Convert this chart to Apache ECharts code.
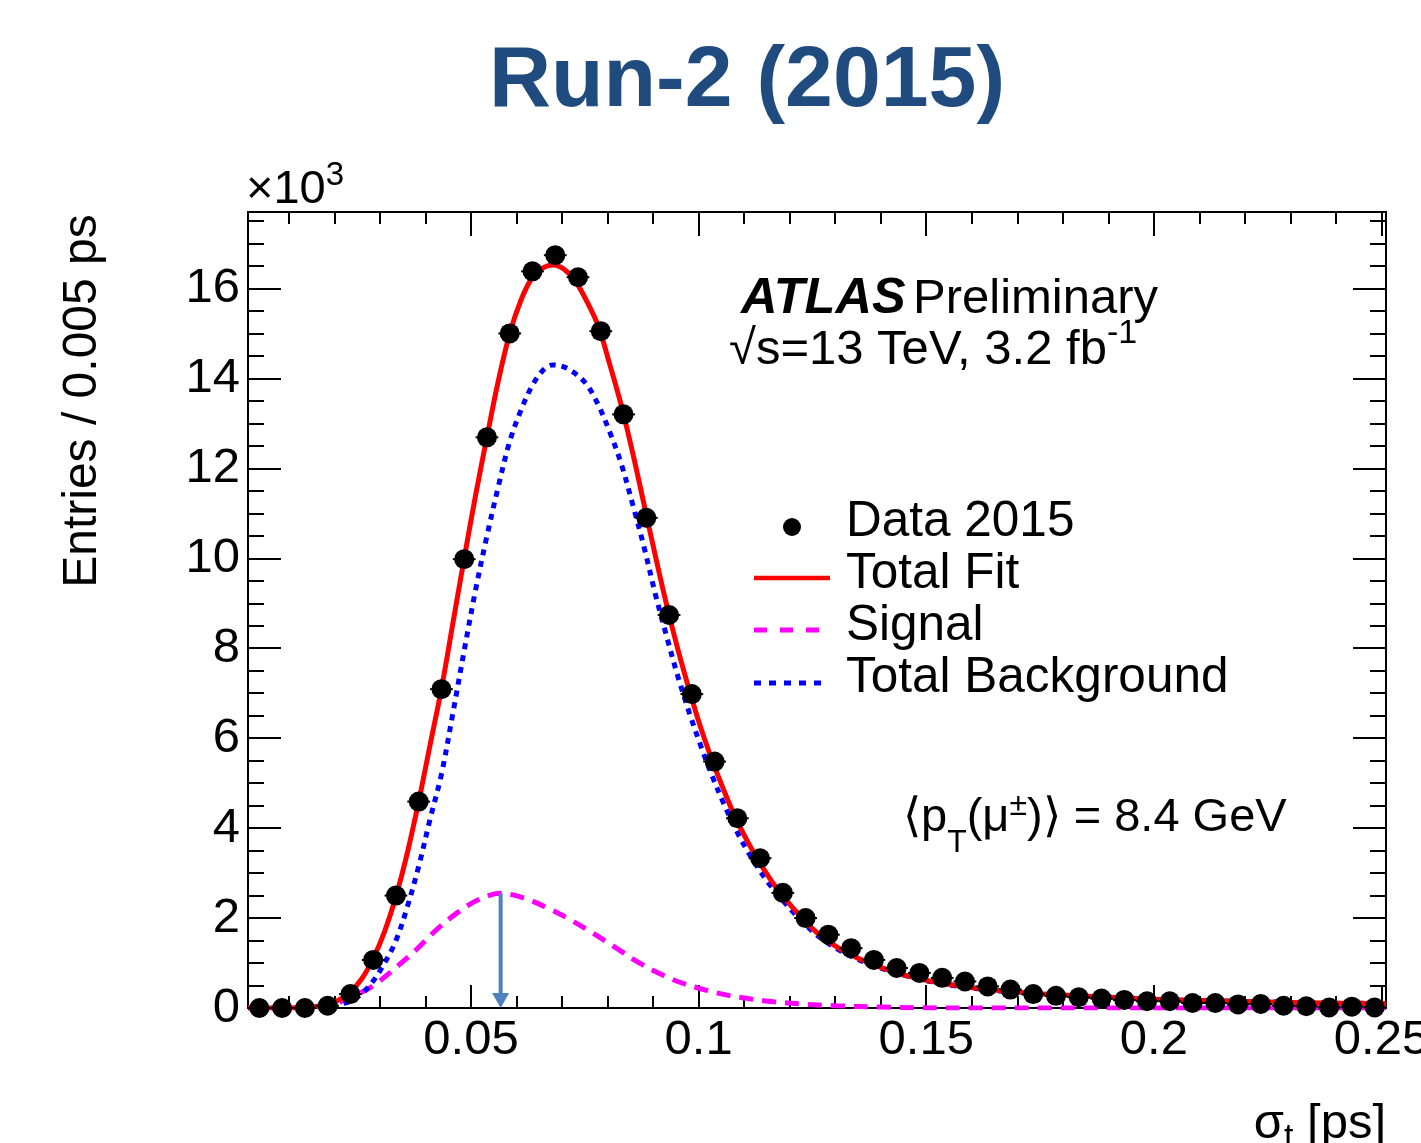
<!DOCTYPE html>
<html><head><meta charset="utf-8">
<script src="https://cdn.jsdelivr.net/npm/echarts@6/dist/echarts.min.js"></script>
<style>html,body{margin:0;padding:0;background:#fff;overflow:hidden}#c{width:1421px;height:1143px}</style>
</head><body><div id="c"></div>
<script>
// ---------------- data (entries in units of 10^3) ----------------
const binCenters = [0.0035,0.0085,0.0135,0.0185,0.0235,0.0285,0.0335,0.0385,0.0435,0.0485,
  0.0535,0.0585,0.0635,0.0685,0.0735,0.0785,0.0835,0.0885,0.0935,0.0985,
  0.1035,0.1085,0.1135,0.1185,0.1235,0.1285,0.1335,0.1385,0.1435,0.1485,
  0.1535,0.1585,0.1635,0.1685,0.1735,0.1785,0.1835,0.1885,0.1935,0.1985,
  0.2035,0.2085,0.2135,0.2185,0.2235,0.2285,0.2335,0.2385,0.2435,0.2485];
const dataCounts = [0.0,0.0,0.0,0.05,0.31,1.07,2.50,4.59,7.09,9.98,
  12.69,15.0,16.38,16.74,16.25,15.05,13.2,10.9,8.74,6.98,
  5.48,4.22,3.33,2.56,2.0,1.63,1.33,1.07,0.89,0.78,
  0.67,0.59,0.48,0.41,0.31,0.27,0.24,0.21,0.18,0.15,
  0.15,0.11,0.11,0.08,0.09,0.05,0.04,0.01,0.03,0.01];
const binWidth = 0.005;

const fitX = [0.001,0.0085,0.0135,0.0185,0.021,0.0235,0.026,0.0285,0.031,0.0335,0.036,0.0385,0.041,0.0435,0.046,0.0485,0.051,0.0535,0.056,0.0585,0.061,0.0635,0.066,0.068,0.0705,0.073,0.0755,0.078,0.0805,0.083,0.0855,0.088,0.0905,0.093,0.0955,0.098,0.1005,0.103,0.1055,0.108,0.1105,0.113,0.1155,0.118,0.1205,0.123,0.1255,0.128,0.1305,0.133,0.138,0.143,0.148,0.153,0.158,0.163,0.168,0.173,0.178,0.188,0.198,0.208,0.218,0.228,0.238,0.251];
const fitY = [0,0,0.01,0.08,0.18,0.36,0.65,1.1,1.7,2.48,3.45,4.59,5.85,7.1,8.55,10.0,11.4,12.7,13.95,15.0,15.75,16.25,16.47,16.52,16.42,16.15,15.7,15.15,14.3,13.4,12.35,11.2,10.05,8.95,7.95,7.05,6.22,5.5,4.85,4.25,3.75,3.3,2.9,2.55,2.25,1.98,1.72,1.52,1.35,1.2,0.98,0.8,0.66,0.56,0.48,0.42,0.37,0.33,0.3,0.25,0.2,0.17,0.15,0.13,0.11,0.1];

const bkgX = [0.001,0.0135,0.0185,0.021,0.0235,0.026,0.0285,0.031,0.0335,0.036,0.0385,0.041,0.0435,0.046,0.0485,0.051,0.0535,0.056,0.0585,0.061,0.0635,0.066,0.068,0.0705,0.073,0.0755,0.078,0.0805,0.083,0.0855,0.088,0.0905,0.093,0.0955,0.098,0.1005,0.103,0.1055,0.108,0.1105,0.113,0.1155,0.118,0.1205,0.123,0.1255,0.128,0.1305,0.133,0.138,0.143,0.148,0.153,0.158,0.163,0.168,0.173,0.178,0.188,0.198,0.208,0.218,0.228,0.238,0.251];
const bkgY = [0,0,0.03,0.08,0.15,0.32,0.6,1.0,1.5,2.25,3.15,4.2,5.2,6.55,7.95,9.3,10.5,11.6,12.6,13.3,13.85,14.2,14.3,14.25,14.1,13.85,13.4,12.8,12.1,11.2,10.25,9.2,8.25,7.35,6.55,5.82,5.15,4.55,4.0,3.53,3.12,2.76,2.45,2.16,1.9,1.66,1.47,1.31,1.17,0.96,0.79,0.65,0.55,0.47,0.41,0.36,0.32,0.29,0.25,0.2,0.17,0.15,0.13,0.11,0.1];

const sigX = [0.001,0.012,0.016,0.0205,0.025,0.029,0.0335,0.038,0.0425,0.047,0.0515,0.0565,0.0615,0.0665,0.0715,0.0765,0.0815,0.0865,0.0915,0.0965,0.1015,0.1065,0.1115,0.1165,0.1225,0.13,0.14,0.155,0.251];
const sigY = [0,0,0.03,0.11,0.3,0.53,0.9,1.3,1.75,2.12,2.4,2.55,2.45,2.24,1.98,1.68,1.36,1.03,0.76,0.55,0.4,0.28,0.2,0.14,0.09,0.05,0.02,0,0];

const arrowX = 0.0565, arrowTop = 2.55;   // mean of the signal marker

const xMin = 0.001, xMax = 0.251, yMin = 0, yMax = 17.7;
const xMajorTicks = [0.05,0.1,0.15,0.2,0.25];
const xTickLabels = ['0.05','0.1','0.15','0.2','0.25'];
const xMinorTicks = [0.01,0.02,0.03,0.04,0.06,0.07,0.08,0.09,0.11,0.12,0.13,0.14,0.16,0.17,0.18,0.19,0.21,0.22,0.23,0.24];
const yMajorTicks = [0,2,4,6,8,10,12,14,16];
const yTickLabels = ['0','2','4','6','8','10','12','14','16'];
const yMinorTicks = [0.5,1,1.5,2.5,3,3.5,4.5,5,5.5,6.5,7,7.5,8.5,9,9.5,10.5,11,11.5,12.5,13,13.5,14.5,15,15.5,16.5,17,17.5];

// ---------------- styling ----------------
const FONT = '"Liberation Sans", Arial, Helvetica, sans-serif';
const RED = '#ff0000', MAG = '#ff00ff', BLUE = '#0000ff', ARROW = '#4f81bd';
const FS = 49;

const zip = (a, b) => a.map((v, i) => [v, b[i]]);
const points = zip(binCenters, dataCounts);

function xAxis(pos, ticks, len, labels) {
  return {
    type: 'value', min: xMin, max: xMax, position: pos,
    axisLine: { show: true, onZero: false, lineStyle: { color: '#000', width: 2 } },
    axisTick: { show: true, inside: true, length: len, customValues: ticks, lineStyle: { color: '#000', width: 2 } },
    axisLabel: labels ? {
      show: true, customValues: ticks, margin: 8, color: '#000', fontSize: FS, fontFamily: FONT,
      formatter: v => xTickLabels[xMajorTicks.findIndex(t => Math.abs(t - v) < 1e-9)]
    } : { show: false },
    splitLine: { show: false }
  };
}
function yAxis(pos, ticks, len, labels) {
  return {
    type: 'value', min: yMin, max: yMax, position: pos,
    axisLine: { show: true, onZero: false, lineStyle: { color: '#000', width: 2 } },
    axisTick: { show: true, inside: true, length: len, customValues: ticks, lineStyle: { color: '#000', width: 2 } },
    axisLabel: labels ? {
      show: true, customValues: ticks, margin: 8, color: '#000', fontSize: FS, fontFamily: FONT,
      formatter: v => yTickLabels[yMajorTicks.findIndex(t => Math.abs(t - v) < 1e-9)]
    } : { show: false },
    splitLine: { show: false }
  };
}

const mctx = document.createElement('canvas').getContext('2d');
function tw(str, size, weight, style) {
  mctx.font = `${style || 'normal'} ${weight || 'normal'} ${size}px ${FONT}`;
  return mctx.measureText(str).width;
}
function txt(str, x, y, size, opt) {
  opt = opt || {};
  return {
    type: 'text', x: x, y: y, rotation: opt.rotation || 0, z: 100,
    style: {
      text: str, fill: opt.fill || '#000', fontSize: size, fontFamily: FONT,
      fontWeight: opt.weight || 'normal', fontStyle: opt.style || 'normal',
      align: opt.align || 'left', textAlign: opt.align || 'left',
      verticalAlign: 'middle', textVerticalAlign: 'middle'
    }
  };
}
function seq(parts, x0, y0) {
  const out = []; let x = x0;
  parts.forEach(p => {
    out.push(txt(p[0], x, y0 + (p[2] || 0), p[1], { weight: p[3], style: p[4] }));
    x += tw(p[0], p[1], p[3], p[4]);
  });
  return out;
}

const graphics = [];
graphics.push(txt('Run-2 (2015)', 747, 82, 86, { weight: 'bold', fill: '#1f4b7e', align: 'center' }));
graphics.push(...seq([['\u00d710', 47, 0], ['3', 33, -14]], 246, 190));
graphics.push(txt('ATLAS', 741, 299, 50.5, { weight: 'bold', style: 'italic' }));
graphics.push(txt('Preliminary', 913, 299, 49));
graphics.push(...seq([['\u221as=13 TeV, 3.2 fb', 49, 0], ['-1', 34, -16]], 729, 350));
const legX = 846, legY = [522, 574, 626, 678];
graphics.push(txt('Data 2015', legX, legY[0], 49.5));
graphics.push(txt('Total Fit', legX, legY[1], 49.5));
graphics.push(txt('Signal', legX, legY[2], 49.5));
graphics.push(txt('Total Background', legX, legY[3], 49.5));
graphics.push({ type: 'circle', shape: { cx: 792, cy: 527, r: 9 }, style: { fill: '#000' }, z: 100 });
graphics.push({ type: 'line', shape: { x1: 754, y1: 578, x2: 830, y2: 578 }, style: { stroke: RED, lineWidth: 4.5 }, z: 100 });
graphics.push({ type: 'line', shape: { x1: 754, y1: 630, x2: 820, y2: 630 }, style: { stroke: MAG, lineWidth: 5, lineDash: [13, 13] }, z: 100 });
graphics.push({ type: 'line', shape: { x1: 754, y1: 683, x2: 824, y2: 683 }, style: { stroke: BLUE, lineWidth: 5, lineDash: [7, 8] }, z: 100 });
// <pT(mu+-)> = 8.4 GeV
graphics.push(...seq([
  ['\u27e8p', 47, 0], ['T', 32, 25], ['(\u03bc', 47, 0], ['\u00b1', 32, -12], [')\u27e9 = 8.4 GeV', 47, 0]
], 903, 818));
// axis titles
graphics.push(txt('Entries / 0.005 ps', 83, 401, 48, { rotation: Math.PI / 2, align: 'center' }));
(function () {
  const s1 = '\u03c3', s2 = 't', s3 = ' [ps]';
  const w = tw(s1, 49) + tw(s2, 34) + tw(s3, 49);
  graphics.push(...seq([[s1, 49, 0], [s2, 34, 14], [s3, 49, 0]], 1386 - w, 1124));
})();

const option = {
  animation: false,
  backgroundColor: '#fff',
  grid: { left: 248, top: 212, right: 35, bottom: 135, containLabel: false, outerBoundsMode: 'none' },
  xAxis: [
    xAxis('bottom', xMajorTicks, 23, true),
    xAxis('bottom', xMinorTicks, 12, false),
    xAxis('top', xMajorTicks, 24, false),
    xAxis('top', xMinorTicks, 12, false)
  ],
  yAxis: [
    yAxis('left', yMajorTicks, 33, true),
    yAxis('left', yMinorTicks, 16, false),
    yAxis('right', yMajorTicks, 33, false),
    yAxis('right', yMinorTicks, 16, false)
  ],
  series: [
    { name: 'Signal', type: 'line', data: zip(sigX, sigY), smooth: 0.35, symbol: 'none', z: 2,
      lineStyle: { color: MAG, width: 5, type: [14, 9] } },
    { name: 'Total Background', type: 'line', data: zip(bkgX, bkgY), smooth: 0.35, symbol: 'none', z: 3,
      lineStyle: { color: BLUE, width: 5, type: [6, 6] } },
    { name: 'Total Fit', type: 'line', data: zip(fitX, fitY), smooth: 0.35, symbol: 'none', z: 4,
      lineStyle: { color: RED, width: 5 } },
    { name: 'arrow', type: 'custom', data: [[arrowX, arrowTop]], z: 5, clip: false,
      renderItem: (params, api) => {
        const top = api.coord([api.value(0), api.value(1)]);
        const bot = api.coord([api.value(0), 0]);
        const head = 15, hw = 8.5;
        return { type: 'group', children: [
          { type: 'line', shape: { x1: top[0], y1: top[1], x2: bot[0], y2: bot[1] - head + 1 }, style: { stroke: ARROW, lineWidth: 4 } },
          { type: 'polygon', shape: { points: [[bot[0] - hw, bot[1] - head], [bot[0] + hw, bot[1] - head], [bot[0], bot[1]]] }, style: { fill: ARROW } }
        ] };
      } },
    { name: 'errx', type: 'custom', data: points, z: 6,
      renderItem: (params, api) => {
        const x = api.value(0), y = api.value(1);
        const a = api.coord([x - binWidth / 2, y]), b = api.coord([x + binWidth / 2, y]);
        return { type: 'line', shape: { x1: a[0], y1: a[1], x2: b[0], y2: b[1] }, style: { stroke: '#000', lineWidth: 2 } };
      } },
    { name: 'Data 2015', type: 'scatter', data: points, symbol: 'circle', symbolSize: 20, z: 7,
      itemStyle: { color: '#000', opacity: 1 } }
  ],
  graphic: { elements: graphics }
};

const chart = echarts.init(document.getElementById('c'), null, { renderer: 'canvas' });
chart.setOption(option);
</script>
</body></html>
